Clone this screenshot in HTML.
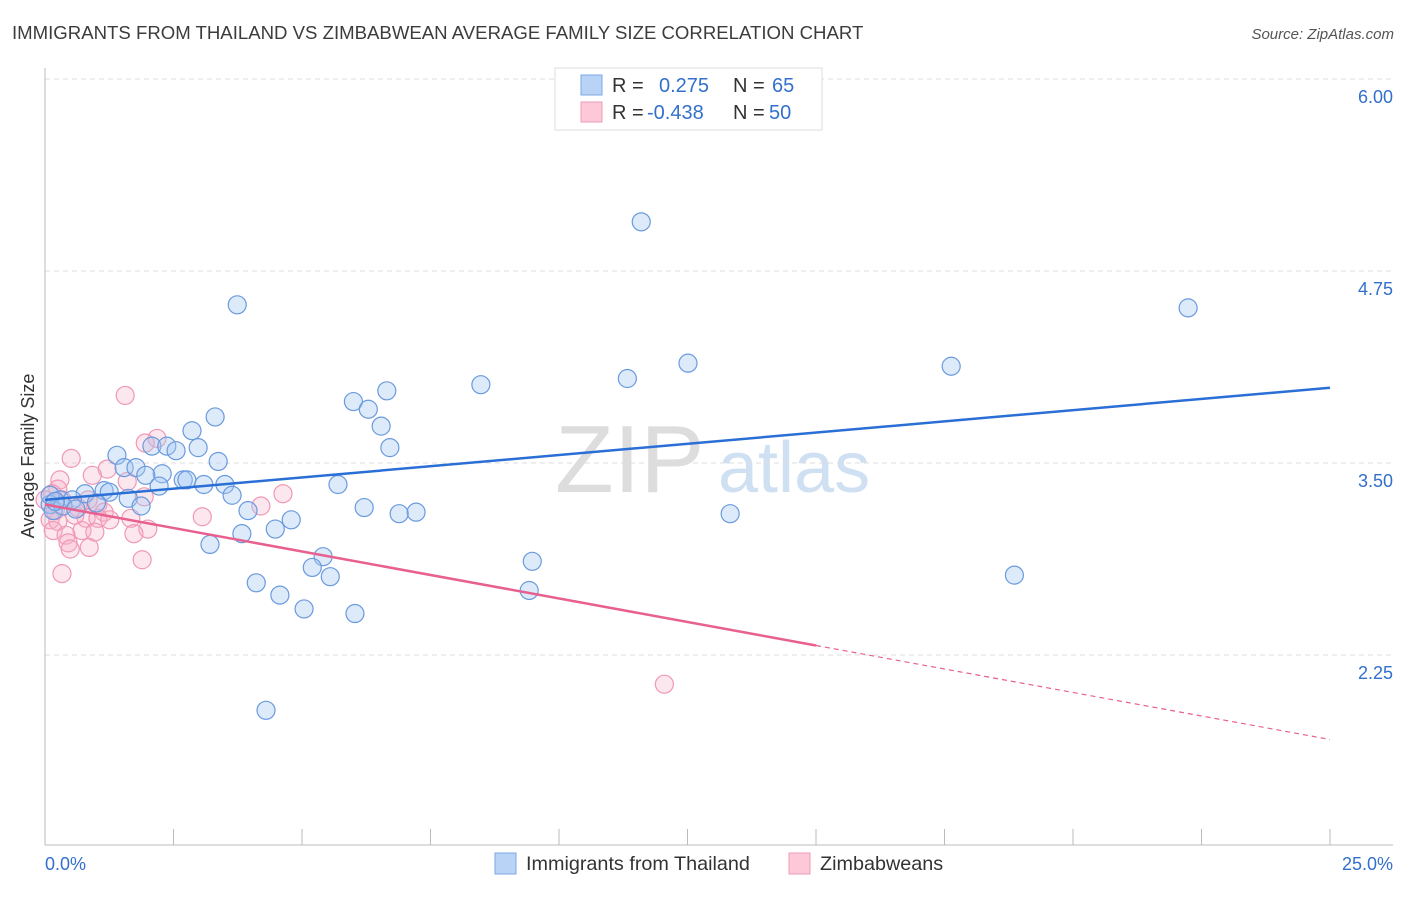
<!DOCTYPE html>
<html><head><meta charset="utf-8"><style>
body{margin:0;background:#fff;font-family:"Liberation Sans",sans-serif;}
svg text{font-family:"Liberation Sans",sans-serif;}
</style></head><body>
<svg id="c" width="1406" height="892" xmlns="http://www.w3.org/2000/svg">
<text x="12" y="39" font-size="18.6" fill="#3c3c3c">IMMIGRANTS FROM THAILAND VS ZIMBABWEAN AVERAGE FAMILY SIZE CORRELATION CHART</text>
<text x="1394" y="39" font-size="15" fill="#555" font-style="italic" text-anchor="end">Source: ZipAtlas.com</text>
<text transform="translate(34,456) rotate(-90)" font-size="18" fill="#333" text-anchor="middle">Average Family Size</text>
<text x="555" y="492" font-size="96" fill="#ddd" font-family="Liberation Serif">ZIP</text>
<text x="718" y="492" font-size="72" fill="#cfe0f3">atlas</text>
<g id="grid"></g><g id="axes"></g><g id="pts"></g><g id="trend"></g>
<g>
<rect x="555" y="68" width="267" height="62" fill="#fff" stroke="#ddd"/>
<rect x="581" y="75" width="21" height="20" fill="#b8d3f5" stroke="#7aa9e6"/>
<rect x="581" y="102" width="21" height="20" fill="#fdc9d8" stroke="#f09bb6"/>
<text x="612" y="92" font-size="20" fill="#333">R = </text><text x="659" y="92" font-size="20" fill="#3370cc">0.275</text>
<text x="733" y="92" font-size="20" fill="#333">N = </text><text x="772" y="92" font-size="20" fill="#3370cc">65</text>
<text x="612" y="119" font-size="20" fill="#333">R = </text><text x="647" y="119" font-size="20" fill="#3370cc">-0.438</text>
<text x="733" y="119" font-size="20" fill="#333">N = </text><text x="769" y="119" font-size="20" fill="#3370cc">50</text>
</g>
<g>
<rect x="495" y="853" width="21" height="21" fill="#b8d3f5" stroke="#7aa9e6"/>
<text x="526" y="870" font-size="19.8" fill="#333">Immigrants from Thailand</text>
<rect x="789" y="853" width="21" height="21" fill="#fdc9d8" stroke="#f09bb6"/>
<text x="820" y="870" font-size="19.8" fill="#333">Zimbabweans</text>
</g>
<text x="45" y="870" font-size="18" fill="#3370cc">0.0%</text>
<text x="1393" y="870" font-size="18" fill="#3370cc" text-anchor="end">25.0%</text>
</svg>
<script>
const yTicks=[6.00,4.75,3.50,2.25];
const yTickLabels=["6.00","4.75","3.50","2.25"];
const blueX=[11.6,3.74,22.24,12.51,11.33,17.63,8.48,6.65,6.0,6.29,6.54,3.31,2.86,6.71,2.08,2.37,2.55,2.98,1.40,3.37,1.54,1.77,2.28,1.96,2.69,2.76,2.22,3.09,3.50,5.70,1.15,0.78,1.25,3.64,1.62,0.29,0.53,1.0,1.87,0.1,0.16,3.95,6.21,7.22,6.89,13.33,4.79,4.48,3.83,3.21,5.41,9.48,5.2,5.55,18.86,4.11,9.42,4.57,5.04,6.03,4.3,0.1,0.35,0.6,0.2];
const blueY=[5.07,4.53,4.51,4.15,4.05,4.13,4.01,3.97,3.90,3.85,3.74,3.80,3.71,3.60,3.61,3.61,3.58,3.60,3.55,3.51,3.47,3.47,3.43,3.42,3.39,3.39,3.35,3.36,3.36,3.36,3.32,3.30,3.31,3.29,3.27,3.26,3.26,3.24,3.22,3.23,3.19,3.19,3.21,3.18,3.17,3.17,3.13,3.07,3.04,2.97,2.89,2.86,2.82,2.76,2.77,2.72,2.67,2.64,2.55,2.52,1.89,3.29,3.22,3.20,3.25];
const pinkX=[1.56,2.18,1.95,0.51,1.21,0.92,0.29,1.60,4.63,0.25,1.93,0.14,0.33,4.2,1.03,0.64,1.15,3.06,1.67,0.8,1.03,0.1,0.25,2.0,0.72,0.97,1.73,0.16,0.41,0.45,0.49,0.86,1.89,0.33,12.05,0.2,0.0,0.58,1.26,0.84];
const pinkY=[3.94,3.66,3.63,3.53,3.46,3.42,3.39,3.38,3.30,3.33,3.28,3.30,3.26,3.22,3.23,3.21,3.18,3.15,3.14,3.14,3.14,3.13,3.12,3.07,3.06,3.05,3.04,3.06,3.03,2.98,2.94,2.95,2.87,2.78,2.06,3.19,3.26,3.16,3.13,3.26];
const blueTrend=[3.26,3.99];
const pinkTrend=[3.23,1.70];
const pinkSolidEnd=15;
const X=v=>45+v/25*1285, Y=v=>79+(6-v)*153.6;
const NS="http://www.w3.org/2000/svg";
function mk(p,t,a){const e=document.createElementNS(NS,t);for(const k in a)e.setAttribute(k,a[k]);p.appendChild(e);return e;}
const grid=document.getElementById('grid'),axes=document.getElementById('axes'),pts=document.getElementById('pts'),tr=document.getElementById('trend');
yTicks.forEach((t,i)=>{
 const l=mk(grid,'line',{x1:45,x2:1393,y1:Y(t),y2:Y(t),stroke:'#ddd','stroke-dasharray':'5,4'});
 
 
 const tx=mk(grid,'text',{x:1393,y:Y(t)+24,'font-size':18,fill:'#3370cc','text-anchor':'end'});tx.textContent=yTickLabels[i];
 
 
});
let a=mk(axes,'line',{x1:45,x2:45,y1:68,y2:845,stroke:'#bbb'});


a=mk(axes,'line',{x1:45,x2:1393,y1:845,y2:845,stroke:'#bbb'});


for(let k=1;k<=10;k++){const t=mk(axes,'line',{x1:X(k*2.5),x2:X(k*2.5),y1:829,y2:845,stroke:'#bbb'});
 
 }
pinkX.forEach((x,i)=>{const c=mk(pts,'circle',{cx:X(x),cy:Y(pinkY[i]),r:9,fill:'rgba(250,175,200,0.3)',stroke:'#f098b4','stroke-width':1.2});
 
 });
blueX.forEach((x,i)=>{const c=mk(pts,'circle',{cx:X(x),cy:Y(blueY[i]),r:9,fill:'rgba(165,200,242,0.38)',stroke:'#6a9ade','stroke-width':1.2});
 
 });
let t=mk(tr,'line',{x1:X(0),y1:Y(blueTrend[0]),x2:X(25),y2:Y(blueTrend[1]),stroke:'#2a6fd6','stroke-width':2.5});


const pv=x=>pinkTrend[0]+(pinkTrend[1]-pinkTrend[0])*x/25;
t=mk(tr,'line',{x1:X(0),y1:Y(pv(0)),x2:X(pinkSolidEnd),y2:Y(pv(pinkSolidEnd)),stroke:'#e8608f','stroke-width':2.5});


t=mk(tr,'line',{x1:X(pinkSolidEnd),y1:Y(pv(pinkSolidEnd)),x2:X(25),y2:Y(pv(25)),stroke:'#e8608f','stroke-width':1.2,'stroke-dasharray':'5,4'});


</script>
</body></html>
